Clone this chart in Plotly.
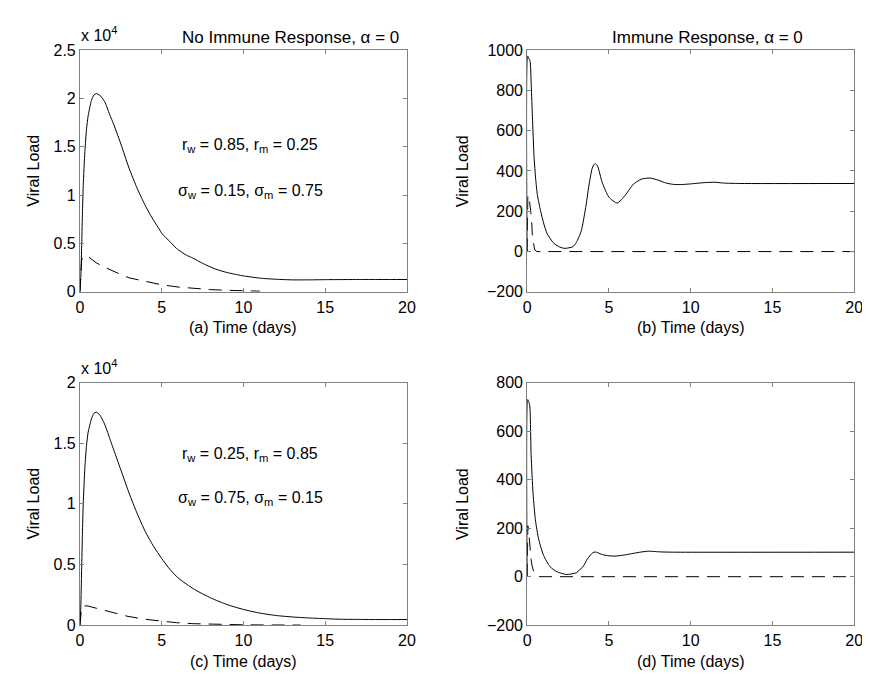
import plotly.graph_objects as go

# ---------------- data ----------------
# (a) No immune response, r_w=0.85, r_m=0.25
t_a_wild = [0, 0.05, 0.1, 0.15, 0.2, 0.3, 0.4, 0.5, 0.7, 0.85, 1.0, 1.2, 1.5, 1.87, 2.0, 2.5, 3.0,
            3.5, 4.0, 4.5, 4.88, 5.0, 5.5, 5.9, 6.5, 6.9, 7.5, 8.3, 9.0, 9.9, 11.0, 12.0, 13.0,
            14.0, 15.0, 16.0, 17.0, 18.0, 19.0, 20.0]
v_a_wild = [0, 1500, 4500, 8000, 11000, 14500, 16800, 18200, 19800, 20350, 20500, 20350, 19700,
            18100, 17600, 15300, 12800, 10700, 8900, 7400, 6400, 6050, 5200, 4500, 3800, 3500,
            2950, 2350, 2000, 1680, 1420, 1300, 1240, 1240, 1260, 1270, 1280, 1280, 1280, 1280]
t_a_mut = [0, 0.05, 0.1, 0.2, 0.35, 0.5, 1.0, 1.5, 2.0, 2.5, 3.0, 4.0, 5.0, 6.0, 7.0, 8.0, 9.0,
           10.0, 11.0]
v_a_mut = [0, 2500, 3300, 3650, 3750, 3650, 3000, 2550, 2150, 1800, 1450, 1050, 730, 500, 340,
           230, 160, 100, 70]

# (b) Immune response
t_b_wild = [0, 0.03, 0.1, 0.18, 0.25, 0.32, 0.42, 0.52, 0.62, 0.82, 1.02, 1.22, 1.63, 2.0, 2.3,
            2.8, 3.0, 3.3, 3.6, 3.8, 4.0, 4.16, 4.3, 4.6, 5.0, 5.5, 6.0, 6.5, 7.0, 7.5, 8.0, 8.5,
            9.0, 9.5, 10.0, 10.5, 11.0, 11.5, 12.0, 13.0, 20.0]
v_b_wild = [0, 970, 960, 944, 820, 670, 470, 360, 283, 202, 137, 89, 41, 22, 16, 24, 45, 100, 230,
            340, 420, 437, 425, 340, 270, 241, 280, 335, 360, 365, 355, 340, 333, 333, 336, 340,
            343, 344, 340, 338, 338]
t_b_mut = [0, 0.04, 0.12, 0.2, 0.26, 0.32, 0.4, 0.46, 0.6, 20.0]
v_b_mut = [0, 280, 265, 220, 170, 75, 25, 8, 0, 0]

# (c) No immune response, r_w=0.25, r_m=0.85
t_c_wild = [0, 0.05, 0.1, 0.15, 0.2, 0.3, 0.4, 0.5, 0.7, 0.85, 1.0, 1.2, 1.5, 1.87, 2.0, 2.5, 3.0,
            3.5, 4.0, 4.5, 5.0, 5.5, 6.0, 7.0, 8.0, 9.0, 10.0, 11.0, 12.0, 13.0, 14.0, 15.0, 16.0,
            17.0, 18.0, 19.0, 20.0]
v_c_wild = [0, 1500, 4500, 7500, 10000, 13000, 14800, 15900, 17000, 17450, 17550, 17350, 16600,
            15200, 14700, 12800, 10900, 9200, 7700, 6500, 5500, 4600, 3900, 2950, 2250, 1700,
            1300, 1000, 800, 680, 600, 540, 490, 480, 470, 470, 470]
t_c_mut = [0, 0.05, 0.1, 0.3, 0.5, 1.0, 1.87, 2.87, 3.9, 4.9, 5.9, 6.9, 7.9, 9.0, 10.0, 11.0, 12.0,
           13.5]
v_c_mut = [0, 1000, 1450, 1600, 1580, 1400, 1070, 750, 500, 350, 210, 130, 80, 50, 35, 25, 20, 15]

# (d) Immune response
t_d_wild = [0, 0.03, 0.1, 0.16, 0.24, 0.36, 0.5, 0.7, 1.0, 1.4, 1.8, 2.4, 3.0, 3.2, 3.4, 3.7, 4.0,
            4.16, 4.6, 5.0, 5.4, 6.0, 6.4, 7.0, 7.4, 8.2, 9.0, 20.0]
v_d_wild = [0, 730, 720, 704, 503, 342, 235, 155, 88, 41, 21, 9, 16, 28, 40, 75, 98, 102, 91, 86,
            85, 90, 95, 102, 105, 102, 101, 101]
t_d_mut = [0, 0.04, 0.1, 0.16, 0.24, 0.3, 0.4, 0.5, 0.7, 20.0]
v_d_mut = [0, 210, 180, 125, 70, 45, 20, 8, 0, 0]

x_ticks = [0, 5, 10, 15, 20]
y_ticks_a = [0, 5000, 10000, 15000, 20000, 25000]
y_text_a = ["0", "0.5", "1", "1.5", "2", "2.5"]
y_ticks_c = [0, 5000, 10000, 15000, 20000]
y_text_c = ["0", "0.5", "1", "1.5", "2"]
y_ticks_b = [-200, 0, 200, 400, 600, 800, 1000]
y_ticks_d = [-200, 0, 200, 400, 600, 800]

titles = ["No Immune Response, \u03b1 = 0", "Immune Response, \u03b1 = 0"]
xlabels = ["(a) Time (days)", "(b) Time (days)", "(c) Time (days)", "(d) Time (days)"]
ylabel = "Viral Load"
params_a = ["r<sub>w</sub> = 0.85, r<sub>m</sub> = 0.25", "\u03c3<sub>w</sub> = 0.15, \u03c3<sub>m</sub> = 0.75"]
params_c = ["r<sub>w</sub> = 0.25, r<sub>m</sub> = 0.85", "\u03c3<sub>w</sub> = 0.75, \u03c3<sub>m</sub> = 0.15"]

# ---------------- layout geometry ----------------
W, H = 870, 674
FONT = "Liberation Sans, Arial, Helvetica, sans-serif"
AX = "#808080"

def px_x(p):
    return p / W

def px_y(p):
    return 1 - p / H

cols = [(69, 401), (523, 855)]
rows = [(35, 283), (376, 625)]

fig = go.Figure()

panels = [
    ("x", "y", t_a_wild, v_a_wild, t_a_mut, v_a_mut),
    ("x2", "y2", t_b_wild, v_b_wild, t_b_mut, v_b_mut),
    ("x3", "y3", t_c_wild, v_c_wild, t_c_mut, v_c_mut),
    ("x4", "y4", t_d_wild, v_d_wild, t_d_mut, v_d_mut),
]
for xa, ya, tw, vw, tm, vm in panels:
    fig.add_trace(go.Scatter(x=tw, y=vw, xaxis=xa, yaxis=ya, mode="lines",
                             line=dict(color="black", width=1, shape="spline", smoothing=0.6),
                             showlegend=False))
    fig.add_trace(go.Scatter(x=tm, y=vm, xaxis=xa, yaxis=ya, mode="lines",
                             line=dict(color="black", width=1, dash="13px,8px"), showlegend=False))

common_x = dict(range=[0, 20], tickvals=x_ticks, ticks="inside", ticklen=4, tickcolor=AX,
                showline=True, linecolor=AX, linewidth=1, mirror="ticks", showgrid=False,
                zeroline=False, ticklabelstandoff=1,
                tickfont=dict(family=FONT, size=16, color="black"))
common_y = dict(ticks="inside", ticklen=4, tickcolor=AX, showline=True, linecolor=AX,
                linewidth=1, mirror="ticks", showgrid=False, zeroline=False,
                tickfont=dict(family=FONT, size=16, color="black"))

yspecs = [
    dict(range=[0, 25000], tickvals=y_ticks_a, ticktext=y_text_a),
    dict(range=[-200, 1000], tickvals=y_ticks_b),
    dict(range=[0, 20000], tickvals=y_ticks_c, ticktext=y_text_c),
    dict(range=[-200, 800], tickvals=y_ticks_d),
]
layout = {}
for i in range(4):
    r, c = divmod(i, 2)
    sfx = "" if i == 0 else str(i + 1)
    x0, x1 = cols[c]
    y0, y1 = rows[r]
    layout["xaxis" + sfx] = dict(common_x, domain=[px_x(x0), px_x(x1)], anchor="y" + sfx)
    layout["yaxis" + sfx] = dict(common_y, domain=[px_y(y1), px_y(y0)], anchor="x" + sfx,
                                 **yspecs[i])

fig.update_layout(**layout)

ann = []
# x axis labels
for i in range(4):
    r, c = divmod(i, 2)
    x0, x1 = cols[c]
    ann.append(dict(text=xlabels[i], xref="paper", yref="paper", x=px_x((x0 + x1) / 2),
                    y=px_y(rows[r][1] + 37), showarrow=False, xanchor="center", yanchor="middle",
                    font=dict(family=FONT, size=16, color="black")))
# y axis labels
ylab_x = [22, 458]
for i in range(4):
    r, c = divmod(i, 2)
    ann.append(dict(text=ylabel, xref="paper", yref="paper", x=px_x(ylab_x[c]),
                    y=px_y((rows[r][0] + rows[r][1]) / 2), textangle=-90, showarrow=False,
                    xanchor="center", yanchor="middle",
                    font=dict(family=FONT, size=16, color="black")))
# titles
ann.append(dict(text=titles[0], xref="paper", yref="paper", x=px_x(283), y=px_y(22),
                showarrow=False, xanchor="center", yanchor="middle",
                font=dict(family=FONT, size=17, color="black")))
ann.append(dict(text=titles[1], xref="paper", yref="paper", x=px_x(706), y=px_y(22),
                showarrow=False, xanchor="center", yanchor="middle",
                font=dict(family=FONT, size=17, color="black")))
# exponent labels
for r in range(2):
    ann.append(dict(text="x 10<sup>4</sup>", xref="paper", yref="paper", x=px_x(68),
                    y=px_y(rows[r][0] - 4), showarrow=False, xanchor="left", yanchor="bottom",
                    font=dict(family=FONT, size=16, color="black")))
# parameter text
for (xr, yr, lines, ys) in [("x", "y", params_a, [15120, 10380]), ("x3", "y3", params_c, [14050, 10440])]:
    for txt, yv in zip(lines, ys):
        ann.append(dict(text=txt, xref=xr, yref=yr, x=10.4, y=yv, showarrow=False,
                        xanchor="center", yanchor="middle",
                        font=dict(family=FONT, size=16, color="black")))

fig.update_layout(annotations=ann, width=W, height=H, autosize=False,
                  margin=dict(l=0, r=0, t=0, b=0), paper_bgcolor="white",
                  plot_bgcolor="white", font=dict(family=FONT, size=16, color="black"))

fig.write_html("out.html")
